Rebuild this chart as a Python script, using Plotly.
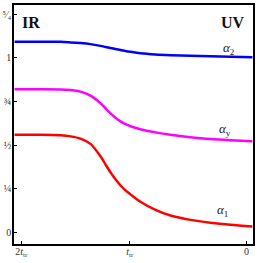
import plotly.graph_objects as go

# shared x grid (in units of t_tr, reversed time: -2 = 2t_tr, 0 = 0)
x = [-2.059, -1.829, -1.651, -1.562, -1.474, -1.385, -1.296, -1.252, -1.207, -1.163,
     -1.118, -1.074, -1.029, -0.941, -0.808, -0.675, -0.497, -0.320, -0.142, 0.053]
alpha2 = [1.091, 1.091, 1.091, 1.088, 1.084, 1.078, 1.068, 1.062, 1.056, 1.050,
          1.045, 1.039, 1.034, 1.026, 1.019, 1.015, 1.011, 1.008, 1.006, 1.003]
alphay = [0.820, 0.820, 0.819, 0.815, 0.806, 0.783, 0.740, 0.711, 0.682, 0.657,
          0.636, 0.620, 0.608, 0.591, 0.573, 0.559, 0.545, 0.535, 0.528, 0.522]
alpha1 = [0.559, 0.559, 0.556, 0.550, 0.537, 0.507, 0.436, 0.390, 0.344, 0.304,
          0.269, 0.241, 0.218, 0.176, 0.129, 0.097, 0.072, 0.056, 0.044, 0.034]

x_tickvals = [-2, -1.036, 0]
x_ticktext = ["2<i>t</i><sub>tr</sub>", "<i>t</i><sub>tr</sub>", "0"]
y_tickvals = [0, 0.25, 0.5, 0.75, 1.0, 1.25]
y_ticktext = ["0", "¼", "½", "¾", "1", "⁵⁄₄"]

series = [
    ("α<sub>1</sub>", alpha1, "#FF0000", -0.211, 0.126),
    ("α<sub>y</sub>", alphay, "#FF00FF", -0.194, 0.591),
    ("α<sub>2</sub>", alpha2, "#0000FF", -0.159, 1.055),
]

fig = go.Figure()
for name, ys, col, lx, ly in series:
    fig.add_trace(go.Scatter(x=x, y=ys, mode="lines",
                             line=dict(color=col, width=2.5, shape="spline", smoothing=0.8),
                             showlegend=False, hoverinfo="skip"))
    fig.add_annotation(x=lx, y=ly, xref="x", yref="y", text="<i>" + name.replace("<sub>", "</i><sub>"),
                       showarrow=False, font=dict(family="Liberation Serif", size=13, color="#222"))

fig.add_annotation(x=0.071, y=0.925, xref="paper", yref="paper", text="<b>IR</b>", showarrow=False,
                   xanchor="center", yanchor="middle",
                   font=dict(family="Liberation Serif", size=16, color="#111"))
fig.add_annotation(x=0.918, y=0.925, xref="paper", yref="paper", text="<b>UV</b>", showarrow=False,
                   xanchor="center", yanchor="middle",
                   font=dict(family="Liberation Serif", size=16, color="#111"))

axis_common = dict(showgrid=False, zeroline=False, showline=True, linecolor="black", linewidth=1.5,
                   mirror=True, ticks="inside", ticklen=3, tickcolor="black", tickwidth=1,
                   automargin=False,
                   tickfont=dict(family="Liberation Serif", size=10, color="#333"))
fig.update_xaxes(range=[-2.064, 0.058], tickmode="array", tickvals=x_tickvals, ticktext=x_ticktext,
                 ticklabelstandoff=-3, **axis_common)
fig.update_yaxes(range=[-0.066, 1.302], tickmode="array", tickvals=y_tickvals, ticktext=y_ticktext,
                 ticklabelstandoff=-1, **axis_common)
fig.update_layout(width=263, height=263, margin=dict(l=14, r=10, t=5, b=19),
                  paper_bgcolor="white", plot_bgcolor="white")
fig.write_html("out.html", config={"displayModeBar": False},
               post_script="document.body.style.margin='0';document.body.style.overflow='hidden';")
